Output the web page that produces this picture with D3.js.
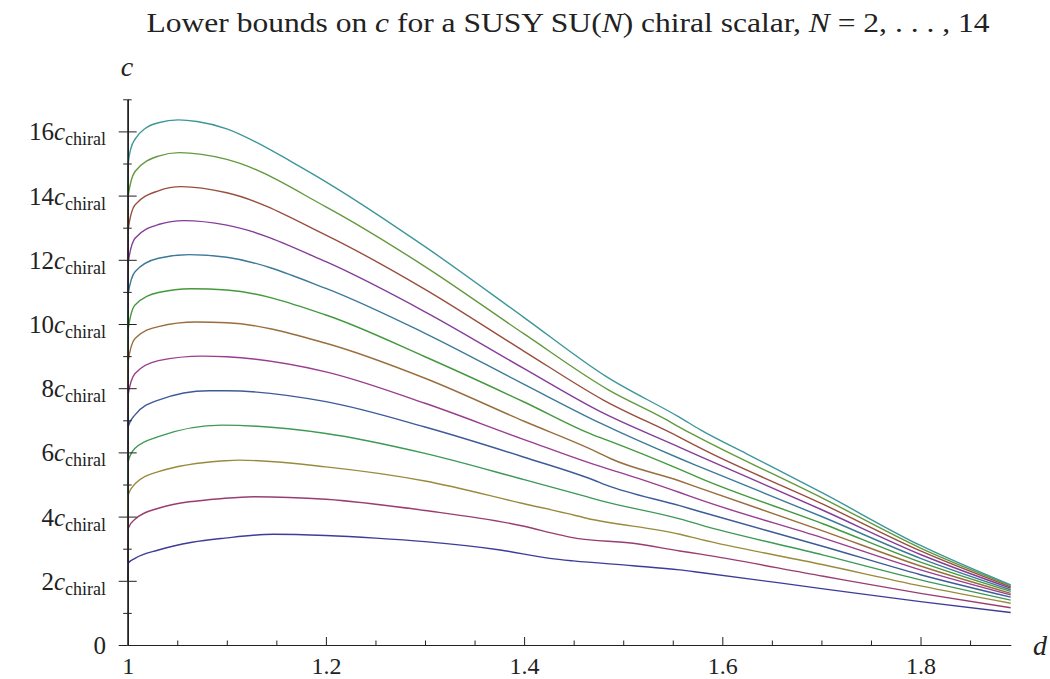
<!DOCTYPE html>
<html>
<head>
<meta charset="utf-8">
<script src="https://cdn.jsdelivr.net/npm/d3@7"></script>
<style>
  html, body { margin: 0; padding: 0; background: #fff; }
  svg { display: block; }
  text { font-family: "Liberation Serif", "DejaVu Serif", serif; fill: #222; }
</style>
</head>
<body>
<svg id="chart" width="1050" height="679"></svg>
<script>
// ---- data (d, c / c_chiral) ----
const seriesNames = ["N=2","N=3","N=4","N=5","N=6","N=7","N=8","N=9","N=10","N=11","N=12","N=13","N=14"];
const seriesColors = ["#3d3d99","#993d71","#998b3d","#3d9956","#3d5a99","#993d90","#996d3d","#43993d","#3d7999","#843d99","#994e3d","#62993d","#3d9799"];

const n2  = [[1,2.0],[1.0004,2.545],[1.0074,2.70],[1.031,2.96],[1.065,3.20],[1.098,3.33],[1.147,3.45],[1.2,3.41],[1.25,3.33],[1.3,3.22],[1.376,2.96],[1.426,2.70],[1.4497,2.62],[1.51,2.47],[1.557,2.34],[1.578,2.26],[1.702,1.75],[1.8,1.35],[1.891,1.01]];
const n3  = [[1,2.545],[1.0004,3.63],[1.0074,3.92],[1.031,4.26],[1.098,4.57],[1.127,4.62],[1.2,4.54],[1.3,4.19],[1.4,3.70],[1.436,3.43],[1.453,3.32],[1.51,3.17],[1.557,2.93],[1.578,2.83],[1.702,2.14],[1.8,1.61],[1.891,1.16]];
const n4  = [[1,3.63],[1.0004,4.67],[1.0074,5.02],[1.031,5.40],[1.098,5.74],[1.112,5.76],[1.2,5.55],[1.3,5.11],[1.4,4.40],[1.443,4.10],[1.463,3.95],[1.557,3.45],[1.578,3.29],[1.702,2.50],[1.8,1.84],[1.891,1.30]];
const n5  = [[1,4.67],[1.0004,5.71],[1.0074,6.13],[1.031,6.49],[1.095,6.85],[1.2,6.59],[1.3,5.97],[1.4,5.15],[1.463,4.62],[1.477,4.50],[1.557,3.93],[1.578,3.74],[1.702,2.80],[1.8,2.03],[1.891,1.40]];
const n6  = [[1,5.71],[1.0004,6.80],[1.0074,7.17],[1.031,7.63],[1.082,7.92],[1.1,7.92],[1.2,7.58],[1.3,6.79],[1.4,5.85],[1.47,5.14],[1.483,4.98],[1.557,4.34],[1.578,4.15],[1.702,3.07],[1.8,2.19],[1.891,1.49]];
const n7  = [[1,6.80],[1.0004,7.79],[1.0074,8.46],[1.031,8.86],[1.075,9.00],[1.1,8.98],[1.2,8.51],[1.3,7.53],[1.4,6.40],[1.483,5.50],[1.497,5.37],[1.557,4.75],[1.578,4.52],[1.702,3.33],[1.8,2.34],[1.891,1.56]];
const n8  = [[1,7.79],[1.0004,8.83],[1.0074,9.55],[1.031,9.92],[1.069,10.06],[1.1,10.04],[1.2,9.40],[1.3,8.31],[1.4,6.97],[1.473,6.02],[1.487,5.81],[1.557,5.11],[1.578,4.88],[1.702,3.55],[1.8,2.46],[1.891,1.61]];
const n9  = [[1,8.83],[1.0004,9.81],[1.0074,10.59],[1.031,10.98],[1.064,11.10],[1.1,11.06],[1.2,10.28],[1.3,8.98],[1.4,7.57],[1.47,6.54],[1.483,6.39],[1.557,5.47],[1.578,5.19],[1.702,3.77],[1.8,2.58],[1.891,1.67]];
const n10 = [[1,9.81],[1.0004,10.93],[1.0074,11.63],[1.031,12.05],[1.062,12.16],[1.1,12.08],[1.2,11.11],[1.3,9.71],[1.4,8.12],[1.477,6.91],[1.557,5.81],[1.578,5.54],[1.702,3.98],[1.8,2.70],[1.891,1.72]];
const n11 = [[1,10.93],[1.0004,11.89],[1.0074,12.67],[1.031,13.10],[1.057,13.22],[1.1,13.08],[1.2,11.94],[1.3,10.38],[1.4,8.61],[1.477,7.27],[1.557,6.16],[1.578,5.87],[1.702,4.19],[1.8,2.82],[1.891,1.77]];
const n12 = [[1,11.89],[1.0004,12.93],[1.0074,13.71],[1.031,14.15],[1.054,14.28],[1.1,14.09],[1.2,12.77],[1.3,11.08],[1.4,9.15],[1.48,7.63],[1.557,6.47],[1.578,6.13],[1.702,4.38],[1.8,2.93],[1.891,1.81]];
const n13 = [[1,12.93],[1.0004,13.97],[1.0074,14.75],[1.031,15.23],[1.052,15.34],[1.1,15.13],[1.2,13.65],[1.3,11.79],[1.4,9.69],[1.485,7.95],[1.544,7.01],[1.557,6.78],[1.578,6.44],[1.702,4.56],[1.8,3.02],[1.891,1.85]];
const n14 = [[1,13.97],[1.0004,14.95],[1.003,15.45],[1.008,15.78],[1.018,16.10],[1.031,16.27],[1.051,16.36],[1.07,16.31],[1.1,16.08],[1.13,15.66],[1.165,15.06],[1.2,14.43],[1.3,12.41],[1.4,10.20],[1.483,8.36],[1.557,7.09],[1.578,6.70],[1.625,5.95],[1.702,4.72],[1.8,3.10],[1.891,1.87]];
const seriesData = [n2,n3,n4,n5,n6,n7,n8,n9,n10,n11,n12,n13,n14];

const xMajorTicks = [1, 1.2, 1.4, 1.6, 1.8];
const xTickLabels = ["1", "1.2", "1.4", "1.6", "1.8"];
const xMinorTicks = [1.05,1.1,1.15,1.25,1.3,1.35,1.45,1.5,1.55,1.65,1.7,1.75,1.85];
const yMajorTicks = [0, 2, 4, 6, 8, 10, 12, 14, 16];
const yTickCoeffs = ["0", "2", "4", "6", "8", "10", "12", "14", "16"];
const yMinorTicks = [1, 3, 5, 7, 9, 11, 13, 15, 17];

// ---- chart ----
const svg = d3.select("#chart");
const x = d3.scaleLinear().domain([1, 1.891]).range([127.7, 1010.7]);
const y = d3.scaleLinear().domain([0, 17]).range([645, 99.3]);

// title
const title = svg.append("text").attr("x", 568).attr("y", 32)
  .attr("text-anchor", "middle").style("font-size", "27px")
  .attr("textLength", 843).attr("lengthAdjust", "spacingAndGlyphs");
title.append("tspan").text("Lower bounds on ");
title.append("tspan").style("font-style", "italic").text("c");
title.append("tspan").text(" for a SUSY SU(");
title.append("tspan").style("font-style", "italic").text("N");
title.append("tspan").text(") chiral scalar, ");
title.append("tspan").style("font-style", "italic").text("N");
title.append("tspan").text(" = 2, . . . , 14");

// curves
const line = d3.line().x(d => x(d[0])).y(d => y(d[1])).curve(d3.curveMonotoneX);
svg.append("g").selectAll("path").data(seriesData).join("path")
  .attr("d", line)
  .attr("fill", "none")
  .attr("stroke", (d, i) => seriesColors[i])
  .attr("stroke-width", 1.4)
  .attr("stroke-linejoin", "round");

const axisColor = "#222";
// y axis: major ticks crossing both sides, minor ticks crossing too
const yAxisG = svg.append("g").attr("transform", `translate(${x(1)},0)`);
yAxisG.call(d3.axisLeft(y).tickValues(yMajorTicks).tickSize(9).tickSizeOuter(0).tickFormat(""));
yAxisG.append("g").call(d3.axisRight(y).tickValues(yMajorTicks).tickSize(9).tickSizeOuter(0).tickFormat(""));
yAxisG.append("g").call(d3.axisLeft(y).tickValues(yMinorTicks).tickSize(4.5).tickSizeOuter(0).tickFormat(""));
yAxisG.append("g").call(d3.axisRight(y).tickValues(yMinorTicks).tickSize(4).tickSizeOuter(0).tickFormat(""));
yAxisG.selectAll("path.domain").attr("stroke", axisColor).attr("stroke-width", 1);
yAxisG.selectAll(".tick line").attr("stroke", axisColor).attr("stroke-width", 1);

// x axis: ticks pointing up
const xAxisG = svg.append("g").attr("transform", `translate(0,${y(0)})`);
xAxisG.call(d3.axisBottom(x).tickValues(xMajorTicks).tickSize(-8).tickSizeOuter(0).tickPadding(12)
  .tickFormat((d, i) => xTickLabels[i]));
xAxisG.append("g").call(d3.axisBottom(x).tickValues(xMinorTicks).tickSize(-4.5).tickSizeOuter(0).tickFormat(""));
xAxisG.selectAll("path.domain").attr("stroke", axisColor).attr("stroke-width", 1);
xAxisG.selectAll(".tick line").attr("stroke", axisColor).attr("stroke-width", 1);
xAxisG.selectAll(".tick text").style("font-family", '"Liberation Serif", "DejaVu Serif", serif')
  .style("font-size", "24px").attr("fill", "#222");
xAxisG.select(".tick line").attr("stroke-opacity", 0); // no tick drawn on top of the y axis at d=1

// y tick labels: "k c_chiral"
const yLab = svg.append("g");
yMajorTicks.forEach((v, i) => {
  const t = yLab.append("text").attr("x", 106).attr("y", y(v) + 9)
    .attr("text-anchor", "end").style("font-size", "25px");
  t.append("tspan").text(yTickCoeffs[i]);
  if (v !== 0) {
    t.append("tspan").style("font-style", "italic").text("c");
    t.append("tspan").attr("dy", 5).style("font-size", "18px").text("chiral");
  }
});

// axis labels
svg.append("text").attr("x", 127).attr("y", 76).attr("text-anchor", "middle")
  .style("font-size", "28px").style("font-style", "italic").text("c");
svg.append("text").attr("x", 1040).attr("y", 655).attr("text-anchor", "middle")
  .style("font-size", "28px").style("font-style", "italic").text("d");
</script>
</body>
</html>
